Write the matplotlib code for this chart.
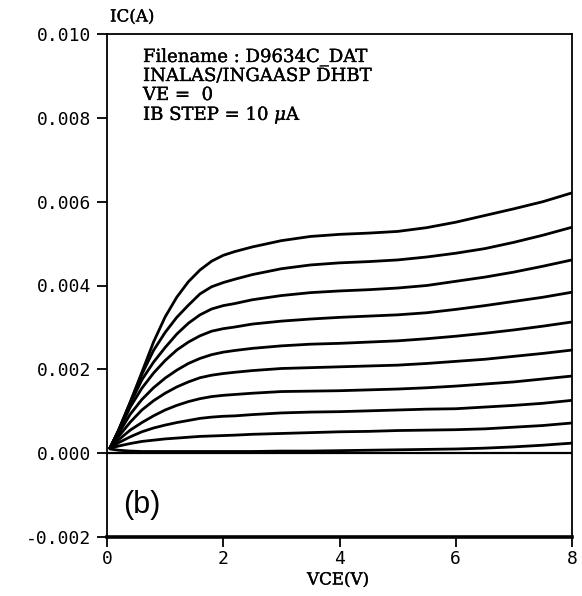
import matplotlib
matplotlib.use("Agg")
import matplotlib.pyplot as plt
import matplotlib.patheffects as pe
import numpy as np

# collector voltage (V)
vce = [0.05, 0.2, 0.4, 0.6, 0.8, 1.0, 1.2, 1.4, 1.6, 1.8, 2.0, 2.2, 2.5,
       3.0, 3.5, 4.0, 4.5, 5.0, 5.5, 6.0, 6.5, 7.0, 7.5, 8.0]

# collector current (mA), one list per base current step, top curve first
ic_1 = [0.12, 0.55, 1.22, 1.93, 2.65, 3.25, 3.72, 4.09, 4.37, 4.58, 4.72, 4.81, 4.92,
        5.07, 5.17, 5.22, 5.25, 5.29, 5.38, 5.51, 5.67, 5.83, 6.00, 6.21]
ic_2 = [0.12, 0.55, 1.21, 1.88, 2.45, 2.88, 3.24, 3.53, 3.80, 3.97, 4.07, 4.15, 4.26,
        4.40, 4.49, 4.54, 4.57, 4.61, 4.68, 4.77, 4.88, 5.03, 5.20, 5.39]
ic_3 = [0.12, 0.54, 1.18, 1.75, 2.17, 2.52, 2.84, 3.10, 3.30, 3.44, 3.52, 3.57, 3.66,
        3.76, 3.83, 3.87, 3.90, 3.94, 4.00, 4.10, 4.20, 4.32, 4.46, 4.61]
ic_4 = [0.12, 0.52, 1.10, 1.55, 1.91, 2.21, 2.46, 2.65, 2.80, 2.91, 2.97, 3.01, 3.08,
        3.15, 3.20, 3.24, 3.27, 3.30, 3.35, 3.43, 3.52, 3.62, 3.72, 3.84]
ic_5 = [0.12, 0.47, 0.93, 1.28, 1.56, 1.79, 1.98, 2.14, 2.26, 2.35, 2.41, 2.45, 2.50,
        2.56, 2.60, 2.62, 2.65, 2.68, 2.73, 2.79, 2.86, 2.94, 3.03, 3.13]
ic_6 = [0.12, 0.40, 0.74, 1.03, 1.25, 1.43, 1.58, 1.70, 1.80, 1.86, 1.90, 1.93, 1.97,
        2.02, 2.04, 2.06, 2.08, 2.10, 2.14, 2.19, 2.24, 2.31, 2.38, 2.46]
ic_7 = [0.12, 0.32, 0.55, 0.73, 0.89, 1.03, 1.14, 1.23, 1.30, 1.35, 1.38, 1.40, 1.43,
        1.47, 1.48, 1.49, 1.51, 1.53, 1.56, 1.60, 1.65, 1.70, 1.77, 1.84]
ic_8 = [0.12, 0.25, 0.39, 0.51, 0.60, 0.67, 0.73, 0.78, 0.83, 0.86, 0.88, 0.89, 0.92,
        0.96, 0.98, 0.99, 1.01, 1.03, 1.05, 1.06, 1.10, 1.14, 1.19, 1.26]
ic_9 = [0.12, 0.17, 0.23, 0.28, 0.31, 0.34, 0.36, 0.38, 0.40, 0.41, 0.42, 0.43, 0.45,
        0.47, 0.49, 0.51, 0.52, 0.54, 0.55, 0.56, 0.58, 0.62, 0.66, 0.72]
ic_10 = [0.10, 0.07, 0.05, 0.04, 0.04, 0.04, 0.04, 0.04, 0.04, 0.04, 0.04, 0.04, 0.04,
         0.05, 0.05, 0.06, 0.07, 0.08, 0.09, 0.10, 0.12, 0.15, 0.19, 0.24]

curves = [ic_1, ic_2, ic_3, ic_4, ic_5, ic_6, ic_7, ic_8, ic_9, ic_10]

x_ticks = [0, 2, 4, 6, 8]
y_ticks = [-0.002, 0.000, 0.002, 0.004, 0.006, 0.008, 0.010]

info_lines = ["Filename : D9634C_DAT",
              "INALAS/INGAASP DHBT",
              "VE =  0",
              r"IB STEP = 10 $\mu$A"]

plt.rcParams['mathtext.fontset'] = 'dejavuserif'

W, H = 582, 596
fig = plt.figure(figsize=(W / 100, H / 100), dpi=100)
ax = fig.add_axes([107 / W, 1 - 537 / H, (572 - 107) / W, (537 - 34) / H])

for ic in curves:
    ax.plot(vce, np.array(ic) * 1e-3, color='black', lw=2.0,
            solid_capstyle='round', solid_joinstyle='round')
ax.axhline(0, color='black', lw=1.6)

ax.set_xlim(0, 8)
ax.set_ylim(-0.002, 0.010)
ax.set_xticks(x_ticks)
ax.set_yticks(y_ticks)
ax.set_xticklabels([str(v) for v in x_ticks])
ax.set_yticklabels([f"{v:.3f}".replace("-0.000", "0.000") for v in y_ticks])

for lab in ax.get_xticklabels() + ax.get_yticklabels():
    lab.set_family('DejaVu Sans Mono')
    lab.set_fontsize(13)
ax.tick_params(direction='out', length=7.5, width=1.3, color='black')
ax.tick_params(axis='y', pad=4)
ax.tick_params(axis='x', pad=2)

for side in ['left', 'right', 'top']:
    ax.spines[side].set_linewidth(1.3)
ax.spines['bottom'].set_linewidth(2.6)

# a touch heavier than the plain glyphs, keeps the thin underscore visible
heavy = [pe.withStroke(linewidth=0.25, foreground='black')]

serif = 'DejaVu Serif'
fig.text(110 / W, 1 - 17 / H, "IC(A)", family=serif, fontsize=12,
         ha='left', va='center', path_effects=heavy)
fig.text(338 / W, 1 - 580 / H, "VCE(V)", family=serif, fontsize=12,
         ha='center', va='center', path_effects=heavy)

baselines = [62, 81, 100, 120]
for txt, yb in zip(info_lines, baselines):
    fig.text(143 / W, 1 - yb / H, txt, family=serif, fontsize=13,
             ha='left', va='baseline', path_effects=heavy)

fig.text(142 / W, 1 - 505 / H, "(b)", family='Liberation Sans', fontsize=22,
         ha='center', va='center')

fig.savefig("out.png", dpi=100)
